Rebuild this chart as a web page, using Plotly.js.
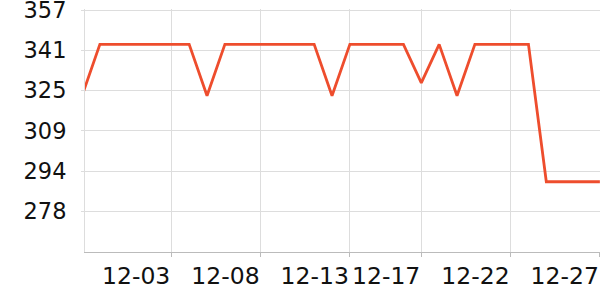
<!DOCTYPE html>
<html>
<head>
<meta charset="utf-8">
<script src="https://cdn.plot.ly/plotly-3.0.1.min.js"></script>
<style>
html,body{margin:0;padding:0;background:#fff;}
#chart{width:600px;height:300px;}
</style>
</head>
<body>
<div id="chart"></div>
<script>
var dates = [
  "2023-11-28","2023-11-29","2023-11-30","2023-12-01","2023-12-02","2023-12-03",
  "2023-12-04","2023-12-05","2023-12-06","2023-12-07","2023-12-08","2023-12-09",
  "2023-12-10","2023-12-11","2023-12-12","2023-12-13","2023-12-14","2023-12-15",
  "2023-12-16","2023-12-17","2023-12-18","2023-12-19","2023-12-20","2023-12-21",
  "2023-12-22","2023-12-23","2023-12-24","2023-12-25","2023-12-26","2023-12-27"
];
var values = [
  323.3, 343.5, 343.5, 343.5, 343.5, 343.5,
  343.5, 323.3, 343.5, 343.5, 343.5, 343.5,
  343.5, 343.5, 323.3, 343.5, 343.5, 343.5,
  343.5, 328.4, 343.5, 323.3, 343.5, 343.5,
  343.5, 343.5, 289.5, 289.5, 289.5, 289.5
];
var xTickVals = ["2023-12-03","2023-12-08","2023-12-13","2023-12-17","2023-12-22","2023-12-27"];
var xTickText = ["12-03","12-08","12-13","12-17","12-22","12-27"];
var yTickVals = [277.83, 293.67, 309.5, 325.33, 341.17, 357];
var yTickText = ["278","294","309","325","341","357"];

var trace = {
  x: dates,
  y: values,
  type: "scatter",
  mode: "lines",
  line: {color: "#ee4d2d", width: 2.8},
  hoverinfo: "none"
};

var layout = {
  width: 600,
  height: 300,
  margin: {l: 85, r: 0, t: 9, b: 48, pad: 0},
  paper_bgcolor: "#ffffff",
  plot_bgcolor: "#ffffff",
  showlegend: false,
  font: {family: "DejaVu Sans", size: 22, color: "#111111"},
  xaxis: {
    type: "date",
    range: ["2023-11-28 04:00", "2023-12-27 00:10"],
    tickmode: "array",
    tickvals: xTickVals,
    ticktext: xTickText,
    tickangle: 0,
    ticklabelposition: "outside left",
    ticklabeloverflow: "allow",
    ticks: "outside",
    ticklen: 4,
    tickcolor: "#bbbbbb",
    showgrid: true,
    gridcolor: "#dddddd",
    gridwidth: 1,
    showline: true,
    linecolor: "#bbbbbb",
    linewidth: 1,
    zeroline: false,
    tickfont: {family: "DejaVu Sans", size: 23.5, color: "#111111"},
    ticklabelstandoff: 3
  },
  yaxis: {
    range: [261.9, 357.4],
    tickmode: "array",
    tickvals: yTickVals,
    ticktext: yTickText,
    ticklabeloverflow: "allow",
    ticks: "outside",
    ticklen: 3,
    tickcolor: "#dddddd",
    showgrid: true,
    gridcolor: "#dddddd",
    gridwidth: 1,
    showline: true,
    linecolor: "#dddddd",
    linewidth: 1,
    zeroline: false,
    tickfont: {family: "DejaVu Sans", size: 22.5, color: "#111111"},
    ticklabelstandoff: 10
  }
};

Plotly.newPlot("chart", [trace], layout, {displayModeBar: false, staticPlot: true});
</script>
</body>
</html>
